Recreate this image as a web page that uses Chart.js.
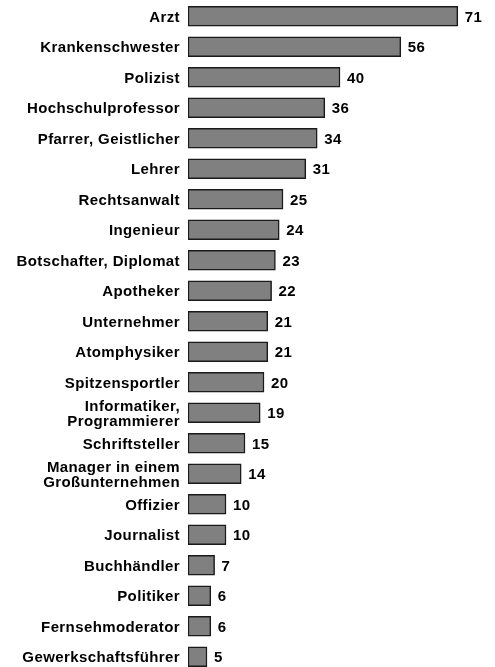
<!DOCTYPE html>
<html>
<head>
<meta charset="utf-8">
<script src="https://cdn.jsdelivr.net/npm/chart.js@4"></script>
<style>
  html, body { margin: 0; padding: 0; background: #fff; overflow: hidden; }
  #wrap { width: 495px; height: 672px; position: relative; }
</style>
</head>
<body>
<div id="wrap"><canvas id="chart"></canvas></div>
<script>
const professions = [
    "Arzt",
    "Krankenschwester",
    "Polizist",
    "Hochschulprofessor",
    "Pfarrer, Geistlicher",
    "Lehrer",
    "Rechtsanwalt",
    "Ingenieur",
    "Botschafter, Diplomat",
    "Apotheker",
    "Unternehmer",
    "Atomphysiker",
    "Spitzensportler",
    ["Informatiker,", "Programmierer"],
    "Schriftsteller",
    ["Manager in einem", "Großunternehmen"],
    "Offizier",
    "Journalist",
    "Buchhändler",
    "Politiker",
    "Fernsehmoderator",
    "Gewerkschaftsführer"
];

const esteem = [71, 56, 40, 36, 34, 31, 25, 24, 23, 22, 21, 21, 20, 19, 15, 14, 10, 10, 7, 6, 6, 5];

const labelFont = { family: "'Liberation Sans', Arial, sans-serif", size: 15, weight: "bold", lineHeight: 0.95 };

// draws the number right of each bar
const valueLabels = {
    id: "valueLabels",
    beforeDraw(chart) {
        chart.ctx.letterSpacing = "0.4px";
    },
    afterDatasetsDraw(chart) {
        const ctx = chart.ctx;
        const meta = chart.getDatasetMeta(0);
        ctx.save();
        ctx.letterSpacing = "0.4px";
        ctx.font = "bold 15px 'Liberation Sans', Arial, sans-serif";
        ctx.fillStyle = "#000";
        ctx.textAlign = "left";
        ctx.textBaseline = "middle";
        meta.data.forEach((bar, i) => {
            ctx.fillText(String(esteem[i]), bar.x + 7, bar.y + 1.5);
        });
        ctx.restore();
    }
};

const ctx = document.getElementById("chart").getContext("2d");

const chart = new Chart(ctx, {
    type: "bar",
    data: {
        labels: professions,
        datasets: [
            {
                data: esteem,
                backgroundColor: "#808080",
                borderColor: "#1a1a1a",
                borderWidth: 1.5,
                borderSkipped: false,
                barThickness: 20
            }
        ]
    },
    options: {
        indexAxis: "y",
        responsive: true,
        maintainAspectRatio: false,
        animation: false,
        layout: {
            padding: { top: 1, right: 3, bottom: 0, left: 0 }
        },
        scales: {
            x: {
                display: false,
                min: 0,
                max: 80
            },
            y: {
                grid: { display: false, drawTicks: false },
                border: { display: false },
                ticks: {
                    color: "#000",
                    padding: 8,
                    labelOffset: 1.5,
                    autoSkip: false,
                    font: labelFont
                },
                afterFit(scale) {
                    scale.width = 188;
                    scale.paddingTop = 0;
                    scale.paddingBottom = 0;
                }
            }
        },
        plugins: {
            legend: { display: false },
            tooltip: { enabled: false }
        }
    },
    plugins: [valueLabels]
});
</script>
</body>
</html>
